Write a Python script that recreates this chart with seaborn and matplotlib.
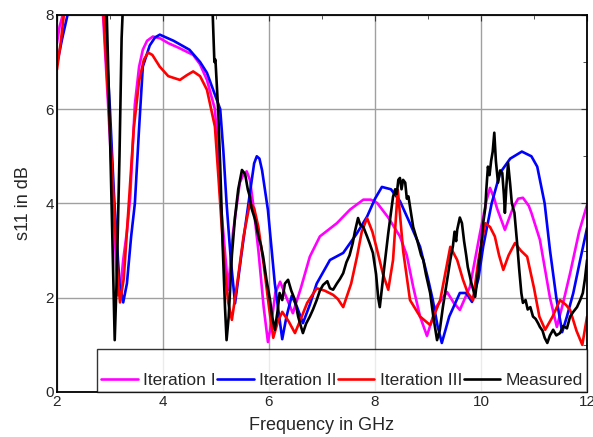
import pandas as pd
import matplotlib
matplotlib.use('Agg')
import matplotlib.pyplot as plt
import seaborn as sns
from matplotlib.ticker import MultipleLocator

# valores (GHz, dB)
it1_x = [2.0, 2.05, 2.11, 2.5, 2.87, 2.96, 3.06, 3.12, 3.15, 3.19, 3.25, 3.32, 3.38, 3.47, 3.55, 3.62, 3.7,
         3.81, 3.95, 4.1, 4.3, 4.57, 4.7, 4.83, 4.98, 5.04, 5.09, 5.14, 5.23, 5.32, 5.45, 5.52, 5.58, 5.64,
         5.7, 5.8, 5.9, 5.98, 6.05, 6.12, 6.21, 6.33, 6.45, 6.6, 6.77, 6.96, 7.28, 7.53, 7.78, 7.92, 8.04,
         8.25, 8.47, 8.6, 8.72, 8.85, 8.98, 9.15, 9.36, 9.48, 9.6, 9.79, 9.98, 10.1, 10.17, 10.25, 10.3,
         10.45, 10.6, 10.7, 10.79, 10.9, 10.95, 11.11, 11.3, 11.43, 11.55, 11.68, 11.85, 12.0]
it1_y = [7.4, 7.75, 8.0, 9.0, 8.0, 6.2, 4.1, 2.6, 2.05, 2.1, 2.8, 3.4, 4.1, 6.1, 6.9, 7.26, 7.45,
         7.54, 7.5, 7.4, 7.3, 7.15, 6.95, 6.62, 6.0, 5.1, 4.0, 3.37, 2.17, 3.37, 4.44, 4.62, 4.68, 4.5,
         4.0, 3.0, 1.8, 1.06, 1.5, 2.1, 2.34, 2.0, 1.67, 2.2, 2.87, 3.3, 3.58, 3.87, 4.08, 4.08, 4.01,
         3.7, 3.3, 2.9, 2.23, 1.6, 1.19, 1.8, 2.12, 1.9, 1.74, 2.23, 3.37, 4.05, 4.33, 4.1, 3.9,
         3.44, 3.9, 4.1, 4.12, 3.95, 3.8, 3.23, 2.0, 1.38, 1.9, 2.52, 3.4, 3.97]

it2_x = [2.0, 2.1, 2.2, 2.5, 2.9, 3.0, 3.08, 3.18, 3.25, 3.32, 3.4, 3.47, 3.55, 3.62, 3.75, 3.85, 3.94,
         4.2, 4.5, 4.7, 4.83, 4.95, 5.08, 5.14, 5.2, 5.28, 5.36, 5.49, 5.64, 5.72, 5.77, 5.82, 5.87, 5.98,
         6.11, 6.25, 6.33, 6.43, 6.53, 6.64, 6.77, 6.9, 7.15, 7.4, 7.65, 7.85, 8.0, 8.13, 8.3, 8.47, 8.65,
         8.85, 9.0, 9.09, 9.18, 9.26, 9.4, 9.6, 9.72, 9.83, 9.95, 10.04, 10.2, 10.36, 10.55, 10.77, 10.95,
         11.06, 11.2, 11.3, 11.42, 11.53, 11.62, 11.74, 11.87, 12.0]
it2_y = [6.95, 7.5, 8.0, 9.0, 8.0, 6.0, 4.1, 2.3, 1.9, 2.3, 3.3, 4.0, 5.6, 6.9, 7.35, 7.52, 7.58,
         7.45, 7.26, 7.0, 6.77, 6.4, 6.0, 5.1, 4.0, 2.8, 1.88, 3.0, 4.22, 4.85, 5.0, 4.95, 4.7, 3.86,
         2.3, 1.12, 1.6, 2.04, 1.8, 1.46, 1.85, 2.3, 2.8, 2.95, 3.35, 3.72, 4.1, 4.35, 4.3, 4.05, 3.6,
         3.08, 2.4, 1.95, 1.4, 1.04, 1.6, 2.1, 2.1, 1.91, 2.4, 3.08, 4.0, 4.65, 4.95, 5.1, 5.0,
         4.78, 4.0, 3.01, 2.0, 1.27, 1.6, 2.1, 2.8, 3.48]

it3_x = [2.0, 2.07, 2.13, 2.5, 2.88, 2.98, 3.07, 3.15, 3.19, 3.26, 3.35, 3.45, 3.55, 3.64, 3.72, 3.8, 3.94,
         4.1, 4.32, 4.45, 4.57, 4.7, 4.83, 4.98, 5.05, 5.15, 5.23, 5.3, 5.4, 5.52, 5.64, 5.72, 5.8, 5.9,
         6.0, 6.08, 6.17, 6.25, 6.37, 6.49, 6.6, 6.72, 6.9, 7.05, 7.21, 7.3, 7.4, 7.55, 7.66, 7.75, 7.85,
         7.95, 8.04, 8.15, 8.25, 8.34, 8.43, 8.53, 8.66, 8.85, 9.04, 9.23, 9.42, 9.55, 9.66, 9.75, 9.85,
         9.95, 10.08, 10.17, 10.26, 10.34, 10.42, 10.52, 10.64, 10.75, 10.87, 11.0, 11.1, 11.21, 11.35,
         11.49, 11.6, 11.68, 11.8, 11.91, 12.0]
it3_y = [6.84, 7.4, 8.0, 9.0, 8.0, 6.0, 4.1, 2.4, 1.9, 2.4, 3.9, 5.6, 6.6, 7.05, 7.2, 7.15, 6.9,
         6.7, 6.62, 6.72, 6.8, 6.7, 6.41, 5.63, 4.5, 2.8, 1.9, 1.53, 2.3, 3.3, 4.01, 3.9, 3.5, 2.7,
         1.8, 1.15, 1.5, 1.7, 1.5, 1.25, 1.55, 1.89, 2.2, 2.15, 2.06, 1.97, 1.8, 2.3, 2.87, 3.4, 3.69,
         3.4, 3.01, 2.5, 2.17, 2.8, 4.29, 3.0, 1.95, 1.6, 1.42, 1.95, 3.08, 2.8, 2.38, 2.1, 1.95,
         2.8, 3.58, 3.5, 3.3, 2.9, 2.59, 2.9, 3.16, 3.0, 2.87, 2.2, 1.6, 1.32, 1.6,
         1.95, 1.85, 1.74, 1.3, 1.0, 1.6]

meas_x = [2.0, 2.9, 2.94, 3.0, 3.05, 3.09, 3.13, 3.18, 3.22, 3.26, 4.9, 4.94, 4.97, 4.99, 5.04, 5.08, 5.13,
          5.17, 5.2, 5.24, 5.3, 5.36, 5.42, 5.49, 5.55, 5.6, 5.64, 5.67, 5.74, 5.8, 5.85, 5.89, 5.95, 6.02,
          6.06, 6.11, 6.16, 6.2, 6.25, 6.3, 6.36, 6.42, 6.49, 6.55, 6.6, 6.64, 6.7, 6.77, 6.83, 6.9, 6.96,
          7.02, 7.1, 7.15, 7.21, 7.28, 7.34, 7.4, 7.46, 7.52, 7.58, 7.62, 7.68, 7.72, 7.78, 7.85, 7.9, 7.96,
          8.02, 8.06, 8.09, 8.13, 8.18, 8.25, 8.3, 8.34, 8.38, 8.41, 8.44, 8.47, 8.5, 8.53, 8.57, 8.6, 8.63,
          8.66, 8.72, 8.8, 8.87, 8.91, 8.96, 9.04, 9.1, 9.17, 9.22, 9.28, 9.35, 9.42, 9.47, 9.5, 9.53, 9.55,
          9.6, 9.64, 9.68, 9.72, 9.75, 9.82, 9.89, 9.93, 9.97, 10.0, 10.04, 10.08, 10.1, 10.13, 10.16, 10.19,
          10.22, 10.25, 10.28, 10.32, 10.36, 10.4, 10.43, 10.45, 10.48, 10.51, 10.55, 10.58, 10.63, 10.68,
          10.72, 10.76, 10.79, 10.84, 10.88, 10.93, 10.98, 11.03, 11.08, 11.11, 11.16, 11.2, 11.25, 11.3,
          11.36, 11.42, 11.49, 11.55, 11.62, 11.68, 11.74, 11.81, 11.87, 11.92, 11.96, 12.0]
meas_y = [9.0, 9.0, 8.0, 5.5, 3.0, 1.1, 2.5, 5.0, 7.5, 8.6, 9.0, 7.96, 7.0, 7.05, 6.0, 4.8, 3.0,
          1.8, 1.1, 1.6, 2.9, 3.72, 4.3, 4.71, 4.62, 4.3, 4.14, 3.9, 3.65, 3.3, 3.1, 2.87, 2.4, 1.95,
          1.6, 1.32, 1.7, 2.1, 1.95, 2.3, 2.38, 2.15, 1.95, 1.6, 1.4, 1.25, 1.45, 1.6, 1.75, 1.95, 2.15,
          2.27, 2.35, 2.2, 2.17, 2.3, 2.4, 2.52, 2.75, 2.9, 3.16, 3.4, 3.69, 3.55, 3.5, 3.3, 3.15, 2.95,
          2.5, 2.0, 1.8, 2.2, 2.7, 3.37, 3.8, 4.14, 4.3, 4.2, 4.5, 4.54, 4.3, 4.5, 4.44, 4.1, 4.15,
          3.93, 3.5, 3.2, 2.9, 2.8, 2.5, 2.1, 1.6, 1.1, 1.3, 1.8, 2.3, 2.8, 3.1, 3.4, 3.2, 3.44,
          3.7, 3.58, 3.2, 2.9, 2.65, 2.3, 2.02, 2.4, 2.8, 3.1, 3.58, 3.9, 4.3, 4.78, 4.6, 4.9,
          5.1, 5.5, 4.9, 4.44, 4.7, 4.65, 4.2, 3.8, 4.4, 4.86, 4.4, 4.01, 3.8, 3.16,
          2.6, 2.1, 1.89, 1.95, 1.75, 1.8, 1.6, 1.55, 1.45, 1.38, 1.3, 1.15, 1.04, 1.2,
          1.32, 1.2, 1.25, 1.4, 1.35, 1.6, 1.7, 1.8, 1.95, 2.1, 2.4, 2.8]

series = ['Iteration I', 'Iteration II', 'Iteration III', 'Measured']
colores = ['#ff00ff', '#0000ff', '#ff0000', '#000000']

df = pd.concat([
    pd.DataFrame({'f': it1_x, 's11': it1_y, 'serie': series[0]}),
    pd.DataFrame({'f': it2_x, 's11': it2_y, 'serie': series[1]}),
    pd.DataFrame({'f': it3_x, 's11': it3_y, 'serie': series[2]}),
    pd.DataFrame({'f': meas_x, 's11': meas_y, 'serie': series[3]}),
])

sns.set_style('white')
plt.rcParams['font.family'] = ['Liberation Sans', 'DejaVu Sans']

fig = plt.figure(figsize=(5.93, 4.37), dpi=100)
ax = fig.add_axes([0.096, 0.103, 0.894, 0.863])
sns.lineplot(data=df, x='f', y='s11', hue='serie', palette=dict(zip(series, colores)),
             estimator=None, sort=False, linewidth=1.9, ax=ax)

ax.set_xlim(2, 12)
ax.set_ylim(0, 8)
ax.xaxis.set_major_locator(MultipleLocator(2))
ax.yaxis.set_major_locator(MultipleLocator(2))
ax.xaxis.set_minor_locator(MultipleLocator(1))
ax.yaxis.set_minor_locator(MultipleLocator(1))
ax.tick_params(which='both', direction='in', top=True, right=True, labelsize=11, pad=2, color='#333333')
ax.tick_params(which='major', length=4)
ax.tick_params(which='minor', length=3)
ax.grid(True, which='major', color='#a0a0a0', linewidth=1.0)
for s in ax.spines.values():
    s.set_color('black')
    s.set_linewidth(1.3)

ax.set_xlabel('Frequency in GHz', fontsize=13, labelpad=6)
ax.set_ylabel('s11 in dB', fontsize=13, labelpad=10)

h, l = ax.get_legend_handles_labels()
leg = ax.legend(h, l, loc='lower right', bbox_to_anchor=(1, 0), ncol=4, frameon=True, fancybox=False,
                edgecolor='black', handlelength=2.1, handletextpad=0.3, columnspacing=0.1,
                borderaxespad=0, title=' ', title_fontsize=8, fontsize=12.5, borderpad=0.25)
leg.get_frame().set_linewidth(1.0)

plt.savefig('out.png', dpi=100)
